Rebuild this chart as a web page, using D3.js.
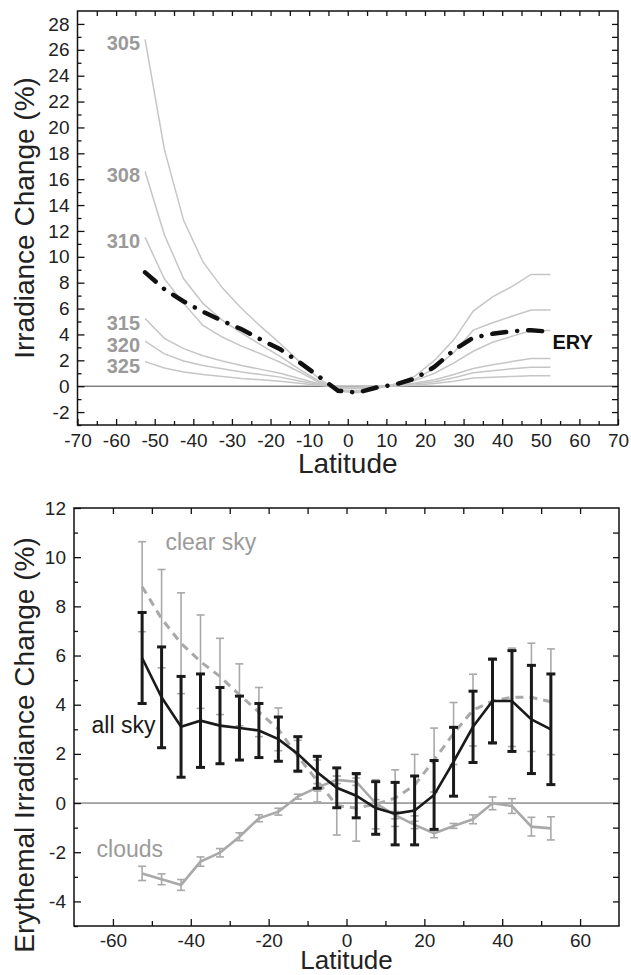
<!DOCTYPE html>
<html>
<head>
<meta charset="utf-8">
<script src="https://cdn.jsdelivr.net/npm/d3@7"></script>
<style>
  html, body { margin: 0; padding: 0; background: #fff; }
  svg { display: block; }
  text { font-family: "Liberation Sans", Arial, Helvetica, sans-serif; }
</style>
</head>
<body>
<svg id="chart" width="631" height="975"></svg>
<script>
// ---------- DATA ----------
const latitudes = [-52.5, -47.5, -42.5, -37.5, -32.5, -27.5, -22.5, -17.5, -12.5, -7.5, -2.5,
                   2.5, 7.5, 12.5, 17.5, 22.5, 27.5, 32.5, 37.5, 42.5, 47.5, 52.5];

// Top panel: irradiance change per wavelength (nm)
const wavelengthNames = ["305", "308", "310", "315", "320", "325"];
const wl305 = [26.8, 18.3, 12.8, 9.6, 7.6, 6.0, 4.6, 3.3, 1.9, 0.6, -0.4, -0.5, -0.2, 0.2, 0.8, 2.0, 3.6, 5.8, 6.9, 7.7, 8.64, 8.64];
const wl308 = [16.6, 11.7, 8.3, 6.4, 5.1, 4.1, 3.2, 2.3, 1.3, 0.4, -0.35, -0.4, -0.15, 0.15, 0.55, 1.4, 2.6, 4.33, 4.9, 5.4, 5.88, 5.88];
const wl310 = [11.5, 8.3, 6.4, 4.7, 3.8, 3.1, 2.5, 1.85, 1.1, 0.3, -0.3, -0.35, -0.1, 0.1, 0.45, 1.0, 1.8, 2.7, 3.4, 3.85, 4.3, 4.3];
const wl315 = [5.23, 3.7, 2.9, 2.35, 1.95, 1.6, 1.3, 1.0, 0.6, 0.2, -0.15, -0.2, -0.05, 0.05, 0.25, 0.5, 0.9, 1.37, 1.65, 1.9, 2.14, 2.14];
const wl320 = [3.48, 2.5, 1.95, 1.6, 1.35, 1.1, 0.9, 0.7, 0.4, 0.15, -0.1, -0.12, -0.03, 0.03, 0.18, 0.35, 0.65, 1.03, 1.2, 1.35, 1.47, 1.47];
const wl325 = [1.9, 1.4, 1.1, 0.9, 0.75, 0.6, 0.5, 0.38, 0.22, 0.08, -0.05, -0.06, -0.02, 0.02, 0.1, 0.2, 0.38, 0.64, 0.7, 0.75, 0.8, 0.8];
const ery   = [8.8, 7.5, 6.55, 5.75, 5.05, 4.4, 3.6, 2.85, 1.85, 0.75, -0.35, -0.5, -0.1, 0.15, 0.6, 1.5, 2.8, 3.75, 4.05, 4.25, 4.33, 4.2];

// Bottom panel: erythemal irradiance change
const allSky     = [5.9, 4.3, 3.1, 3.35, 3.15, 3.05, 2.95, 2.6, 2.0, 1.25, 0.62, 0.3, -0.2, -0.43, -0.3, 0.33, 1.68, 3.1, 4.15, 4.15, 3.4, 3.0];
const allSkyErr  = [1.85, 2.05, 2.05, 1.9, 1.55, 1.3, 1.1, 0.9, 0.7, 0.65, 0.81, 0.9, 1.07, 1.27, 1.4, 1.4, 1.4, 1.45, 1.7, 2.05, 2.2, 2.25];
const clearSky   = [8.8, 7.5, 6.5, 5.75, 5.15, 4.4, 3.7, 3.0, 1.9, 0.9, -0.1, -0.2, -0.05, 0.2, 0.73, 1.75, 2.83, 3.78, 4.15, 4.3, 4.3, 4.12];
const clearErr   = [1.83, 2.0, 2.05, 1.9, 1.55, 1.26, 1.0, 0.87, 0.65, 0.85, 1.2, 1.35, 1.0, 1.15, 1.25, 1.3, 1.26, 1.46, 1.75, 2.0, 2.2, 2.15];
const clouds     = [-2.86, -3.1, -3.33, -2.38, -2.02, -1.37, -0.62, -0.35, 0.26, 0.64, 0.94, 0.87, -0.01, -0.49, -0.89, -1.23, -0.93, -0.66, -0.01, -0.12, -0.96, -1.03];
const cloudsErr  = [0.29, 0.22, 0.22, 0.19, 0.17, 0.16, 0.14, 0.14, 0.1, 0.15, 0.15, 0.15, 0.15, 0.15, 0.15, 0.18, 0.1, 0.18, 0.26, 0.3, 0.38, 0.47];

// Tick labels
const topXTicks = d3.range(-70, 71, 10);
const topYTicks = d3.range(-2, 29, 2);
const botXTicks = [-60, -40, -20, 0, 20, 40, 60];
const botYTicks = d3.range(-4, 13, 2);

// ---------- DRAW ----------
const svg = d3.select("#chart");
const FONT = 19;
const TITLE = 28;
const fmt = d => String(d);   // plain hyphen minus, as in the original

function frame(g, x, y) {
  const [x0, x1] = x.range(), [y1, y0] = y.range();
  g.append("rect").attr("x", x0).attr("y", y0).attr("width", x1 - x0).attr("height", y1 - y0)
    .attr("fill", "none").attr("stroke", "#111").attr("stroke-width", 1.5);
}
function styleAxis(sel) {
  sel.select(".domain").remove();
  sel.selectAll("line").attr("stroke", "#111").attr("stroke-width", 1.3);
  sel.selectAll("text").attr("fill", "#222").style("font-size", FONT + "px");
}

// ===== Top panel =====
{
  const x = d3.scaleLinear().domain([-70, 70]).range([77.5, 618]);
  const y = d3.scaleLinear().domain([-3, 29]).range([425, 11]);
  const g = svg.append("g");

  g.append("line").attr("x1", x(-70)).attr("x2", x(70)).attr("y1", y(0)).attr("y2", y(0))
    .attr("stroke", "#444").attr("stroke-width", 1);

  const line = d3.line().x((d, i) => x(latitudes[i])).y(d => y(d));
  const wlSeries = [wl305, wl308, wl310, wl315, wl320, wl325];
  wlSeries.forEach((s, k) => {
    g.append("path").attr("d", line(s)).attr("fill", "none")
      .attr("stroke", "#c6c6c6").attr("stroke-width", 1.5);
    g.append("text").attr("x", x(latitudes[0]) - 5).attr("y", y(s[0]) + 4)
      .attr("dy", "0.35em").attr("text-anchor", "end")
      .attr("fill", "#9a9a9a").attr("font-weight", "bold").style("font-size", "20px")
      .text(wavelengthNames[k]);
  });

  g.append("path").attr("d", line(ery)).attr("fill", "none")
    .attr("stroke", "#111").attr("stroke-width", 4.5)
    .attr("stroke-linecap", "round").attr("stroke-dasharray", "14,11,0.1,11");
  g.append("text").attr("x", x(latitudes[latitudes.length - 1]) + 2)
    .attr("y", y(ery[ery.length - 1]) + 10).attr("dy", "0.35em")
    .attr("fill", "#111").attr("font-weight", "bold").style("font-size", "20px").text("ERY");

  const ax = g.append("g").attr("transform", `translate(0,${y(-3)})`)
    .call(d3.axisBottom(x).tickValues(topXTicks).tickSize(-6).tickPadding(9).tickFormat(fmt));
  styleAxis(ax);
  const axm = g.append("g").attr("transform", `translate(0,${y(-3)})`)
    .call(d3.axisBottom(x).tickValues(d3.range(-65, 70, 10)).tickSize(-4).tickFormat(""));
  styleAxis(axm);
  const axt = g.append("g").attr("transform", `translate(0,${y(29)})`)
    .call(d3.axisTop(x).tickValues(d3.range(-65, 70, 5)).tickSize(-5).tickFormat(""));
  styleAxis(axt);
  const ay = g.append("g").attr("transform", `translate(${x(-70)},0)`)
    .call(d3.axisLeft(y).tickValues(topYTicks).tickSize(-7).tickPadding(8).tickFormat(fmt));
  styleAxis(ay);
  const aym = g.append("g").attr("transform", `translate(${x(-70)},0)`)
    .call(d3.axisLeft(y).tickValues(d3.range(-3, 29, 2)).tickSize(-4).tickFormat(""));
  styleAxis(aym);
  const ayr = g.append("g").attr("transform", `translate(${x(70)},0)`)
    .call(d3.axisRight(y).tickValues(d3.range(-2, 29, 1)).tickSize(-6).tickFormat(""));
  styleAxis(ayr);
  frame(g, x, y);

  g.append("text").attr("x", (x(-70) + x(70)) / 2).attr("y", 473)
    .attr("text-anchor", "middle").attr("fill", "#222").style("font-size", TITLE + "px").text("Latitude");
  g.append("text").attr("transform", `translate(34,${(y(-3) + y(29)) / 2}) rotate(-90)`)
    .attr("text-anchor", "middle").attr("fill", "#222").style("font-size", TITLE + "px")
    .text("Irradiance Change (%)");
}

// ===== Bottom panel =====
{
  const x = d3.scaleLinear().domain([-70, 70]).range([74, 619]);
  const y = d3.scaleLinear().domain([-5, 12]).range([926, 508]);
  const g = svg.append("g");

  g.append("line").attr("x1", x(-70)).attr("x2", x(70)).attr("y1", y(0)).attr("y2", y(0))
    .attr("stroke", "#555").attr("stroke-width", 1);

  const line = d3.line().x((d, i) => x(latitudes[i])).y(d => y(d));
  const gray = "#a9a9a9";

  function errorBars(vals, errs, color, width, capW) {
    const eg = g.append("g");
    vals.forEach((v, i) => {
      const cx = x(latitudes[i]);
      eg.append("line").attr("x1", cx).attr("x2", cx).attr("y1", y(v - errs[i])).attr("y2", y(v + errs[i]))
        .attr("stroke", color).attr("stroke-width", width);
      [v - errs[i], v + errs[i]].forEach(e => {
        eg.append("line").attr("x1", cx - capW / 2).attr("x2", cx + capW / 2).attr("y1", y(e)).attr("y2", y(e))
          .attr("stroke", color).attr("stroke-width", width);
      });
    });
  }

  errorBars(clearSky, clearErr, gray, 1.6, 8);
  errorBars(clouds, cloudsErr, gray, 1.6, 8);
  g.append("path").attr("d", line(clouds)).attr("fill", "none").attr("stroke", gray).attr("stroke-width", 2.6);
  g.append("path").attr("d", line(clearSky)).attr("fill", "none").attr("stroke", gray)
    .attr("stroke-width", 3).attr("stroke-dasharray", "8,6");

  errorBars(allSky, allSkyErr, "#1a1a1a", 3, 9);
  g.append("path").attr("d", line(allSky)).attr("fill", "none").attr("stroke", "#1a1a1a").attr("stroke-width", 2.6);

  g.append("text").attr("x", x(-46.5)).attr("y", y(10.3)).attr("fill", "#9a9a9a")
    .style("font-size", "23px").text("clear sky");
  g.append("text").attr("x", x(-65.5)).attr("y", y(2.85)).attr("fill", "#1a1a1a")
    .style("font-size", "23px").text("all sky");
  g.append("text").attr("x", x(-64.2)).attr("y", y(-2.2)).attr("fill", "#9a9a9a")
    .style("font-size", "23px").text("clouds");

  const ax = g.append("g").attr("transform", `translate(0,${y(-5)})`)
    .call(d3.axisBottom(x).tickValues(botXTicks).tickSize(-7).tickPadding(8).tickFormat(fmt));
  styleAxis(ax);
  const axm = g.append("g").attr("transform", `translate(0,${y(-5)})`)
    .call(d3.axisBottom(x).tickValues(d3.range(-50, 70, 20)).tickSize(-5).tickFormat(""));
  styleAxis(axm);
  const axt = g.append("g").attr("transform", `translate(0,${y(12)})`)
    .call(d3.axisTop(x).tickValues(d3.range(-60, 70, 10)).tickSize(-6).tickFormat(""));
  styleAxis(axt);
  const ay = g.append("g").attr("transform", `translate(${x(-70)},0)`)
    .call(d3.axisLeft(y).tickValues(botYTicks).tickSize(-7).tickPadding(8).tickFormat(fmt));
  styleAxis(ay);
  const aym = g.append("g").attr("transform", `translate(${x(-70)},0)`)
    .call(d3.axisLeft(y).tickValues(d3.range(-5, 12, 2)).tickSize(-4).tickFormat(""));
  styleAxis(aym);
  const ayr = g.append("g").attr("transform", `translate(${x(70)},0)`)
    .call(d3.axisRight(y).tickValues(d3.range(-4, 12, 1)).tickSize(-6).tickFormat(""));
  styleAxis(ayr);
  frame(g, x, y);

  g.append("text").attr("x", (x(-70) + x(70)) / 2).attr("y", 969)
    .attr("text-anchor", "middle").attr("fill", "#222").style("font-size", "26px").text("Latitude");
  g.append("text").attr("transform", `translate(34,745) rotate(-90)`)
    .attr("text-anchor", "middle").attr("fill", "#222").style("font-size", TITLE + "px")
    .text("Erythemal Irradiance Change (%)");
}
</script>
</body>
</html>
